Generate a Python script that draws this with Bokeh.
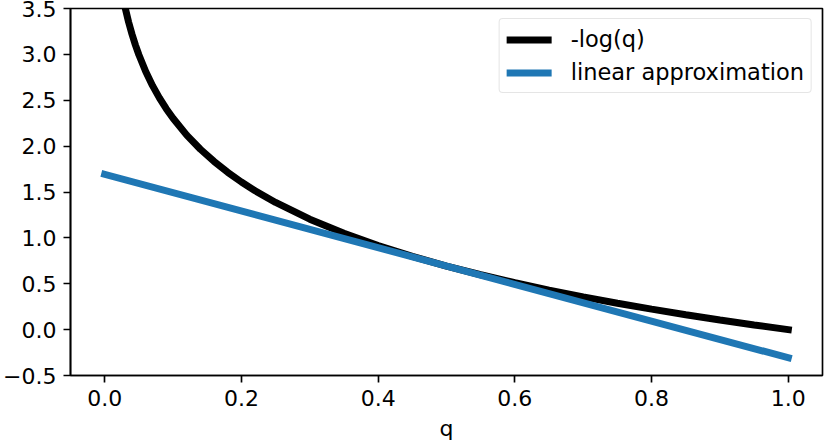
from bokeh.plotting import figure
from bokeh.models import FixedTicker, Legend, LegendItem, Range1d
from bokeh.embed import file_html
from bokeh.resources import INLINE

# -log(q) curve
q_curve = [0.01, 0.02, 0.025, 0.03, 0.035, 0.04, 0.045, 0.05, 0.06, 0.07, 0.08, 0.09,
           0.10, 0.12, 0.14, 0.16, 0.18, 0.20, 0.22, 0.25, 0.30, 0.35, 0.40, 0.45,
           0.50, 0.55, 0.60, 0.65, 0.70, 0.75, 0.80, 0.85, 0.90, 0.95, 1.00]
neglog = [4.605, 3.912, 3.689, 3.507, 3.352, 3.219, 3.101, 2.996, 2.813, 2.659, 2.526, 2.408,
          2.303, 2.120, 1.966, 1.833, 1.715, 1.609, 1.514, 1.386, 1.204, 1.050, 0.916, 0.799,
          0.693, 0.598, 0.511, 0.431, 0.357, 0.288, 0.223, 0.163, 0.105, 0.051, 0.000]

# linear approximation (tangent at q = 0.5)
q_lin = [0.0, 1.0]
lin = [1.693, -0.307]

x_ticks = [0.0, 0.2, 0.4, 0.6, 0.8, 1.0]
x_tick_labels = ["0.0", "0.2", "0.4", "0.6", "0.8", "1.0"]
y_ticks = [-0.5, 0.0, 0.5, 1.0, 1.5, 2.0, 2.5, 3.0, 3.5]
y_tick_labels = ["\u22120.5", "0.0", "0.5", "1.0", "1.5", "2.0", "2.5", "3.0", "3.5"]

FONT = "DejaVu Sans"
FS = "22px"

p = figure(width=830, height=443, output_backend="svg", toolbar_location=None,
           x_range=Range1d(-0.05, 1.05), y_range=Range1d(-0.5, 3.5),
           min_border_left=70, min_border_right=8, min_border_top=8, min_border_bottom=68)
p.background_fill_color = "white"
p.border_fill_color = "white"
p.xgrid.visible = False
p.ygrid.visible = False
p.outline_line_color = "black"
p.outline_line_width = 1.67
p.outline_line_alpha = 1.0

r1 = p.line(q_curve, neglog, line_color="black", line_width=7, line_cap="square")
r2 = p.line(q_lin, lin, line_color="#1f77b4", line_width=7, line_cap="square")

for ax, ticks, labels in ((p.xaxis[0], x_ticks, x_tick_labels), (p.yaxis[0], y_ticks, y_tick_labels)):
    ax.ticker = FixedTicker(ticks=ticks)
    ax.major_label_overrides = {t: l for t, l in zip(ticks, labels)}
    ax.minor_tick_line_color = None
    ax.major_tick_in = 0
    ax.major_tick_out = 7
    ax.major_tick_line_width = 1.67
    ax.axis_line_width = 1.67
    ax.axis_line_color = "black"
    ax.major_tick_line_color = "black"
    ax.major_label_text_font = FONT
    ax.major_label_text_font_size = FS
    ax.major_label_text_color = "black"
    ax.major_label_standoff = 7

p.xaxis.axis_label = "q"
p.xaxis.axis_label_text_font = FONT
p.xaxis.axis_label_text_font_size = FS
p.xaxis.axis_label_text_font_style = "normal"
p.xaxis.axis_label_text_color = "black"
p.xaxis.axis_label_standoff = 7

legend = Legend(items=[LegendItem(label="-log(q)", renderers=[r1]),
                       LegendItem(label="linear approximation", renderers=[r2])],
                location="top_right")
legend.label_text_font = FONT
legend.label_text_font_size = "22.5px"
legend.label_text_color = "black"
legend.glyph_width = 45
legend.glyph_height = 23
legend.label_standoff = 19
legend.label_height = 23
legend.spacing = 7
legend.padding = 7
legend.margin = 10
legend.border_line_color = "#cccccc"
legend.border_line_width = 1.5
legend.background_fill_color = "white"
legend.background_fill_alpha = 0.8
try:
    legend.border_radius = 4
except Exception:
    pass
p.add_layout(legend)

open("out.html", "w").write(file_html(p, INLINE))
